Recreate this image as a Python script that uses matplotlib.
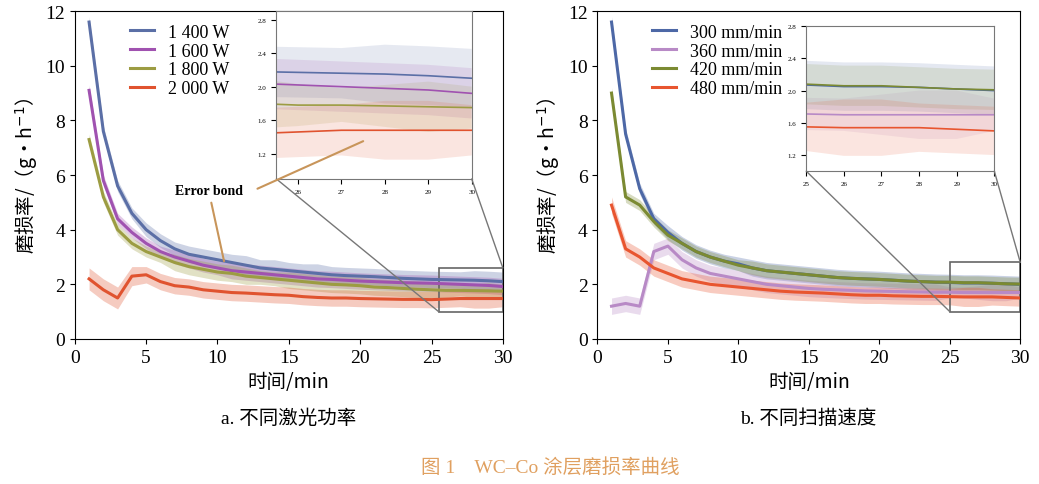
import matplotlib
matplotlib.use("Agg")
import matplotlib.pyplot as plt
import numpy as np
from matplotlib.patches import Rectangle, ConnectionPatch

plt.rcParams['font.family'] = ['Liberation Serif', 'Noto Sans CJK SC', 'DejaVu Sans']
CJK = ['Noto Sans CJK SC', 'DejaVu Sans']

t = list(range(1, 31))
p_labels = ["1 400 W", "1 600 W", "1 800 W", "2 000 W"]
p1400 = [11.6,7.6,5.6,4.6,4.0,3.6,3.3,3.1,3.0,2.9,2.8,2.7,2.6,2.55,2.5,2.45,2.4,2.35,2.32,2.3,2.28,2.25,2.22,2.2,2.18,2.17,2.16,2.15,2.13,2.1]
p1600 = [9.1,5.8,4.4,3.9,3.5,3.2,3.0,2.85,2.7,2.6,2.5,2.45,2.4,2.35,2.3,2.25,2.2,2.18,2.15,2.12,2.1,2.08,2.06,2.05,2.04,2.02,2.0,1.98,1.96,1.92]
p1800 = [7.3,5.2,4.0,3.5,3.2,3.0,2.8,2.65,2.55,2.45,2.4,2.3,2.25,2.2,2.15,2.1,2.05,2.0,1.98,1.95,1.9,1.88,1.85,1.82,1.8,1.78,1.78,1.77,1.76,1.75]
p2000 = [2.2,1.8,1.5,2.3,2.35,2.1,1.95,1.9,1.8,1.75,1.7,1.68,1.65,1.62,1.6,1.55,1.52,1.5,1.5,1.48,1.47,1.46,1.45,1.45,1.44,1.46,1.48,1.48,1.48,1.48]
pe1400 = [0.2,0.2,0.2,0.2,0.25,0.25,0.25,0.3,0.3,0.3,0.3,0.35,0.3,0.35,0.3,0.3,0.35,0.3,0.3,0.3,0.3,0.3,0.3,0.3,0.3,0.3,0.3,0.35,0.35,0.35]
pe1600 = [0.2,0.2,0.2,0.2,0.2,0.2,0.25,0.25,0.25,0.25,0.3,0.3,0.3,0.3,0.3,0.3,0.3,0.3,0.3,0.3,0.3,0.3,0.3,0.3,0.3,0.3,0.3,0.3,0.3,0.3]
pe1800 = [0.2,0.2,0.2,0.2,0.2,0.2,0.3,0.3,0.3,0.3,0.3,0.3,0.25,0.25,0.3,0.3,0.3,0.3,0.3,0.3,0.3,0.3,0.3,0.3,0.3,0.25,0.2,0.25,0.3,0.25]
pe2000 = [0.4,0.4,0.4,0.35,0.3,0.3,0.3,0.3,0.3,0.3,0.3,0.3,0.3,0.3,0.3,0.3,0.3,0.3,0.3,0.3,0.3,0.3,0.3,0.3,0.3,0.3,0.3,0.35,0.35,0.3]

s_labels = ["300 mm/min", "360 mm/min", "420 mm/min", "480 mm/min"]
s300 = [11.6,7.5,5.5,4.4,3.9,3.5,3.2,3.0,2.85,2.75,2.6,2.5,2.45,2.4,2.35,2.3,2.25,2.22,2.2,2.18,2.15,2.12,2.1,2.08,2.07,2.05,2.05,2.04,2.02,2.0]
s360 = [1.2,1.3,1.2,3.2,3.4,2.9,2.6,2.4,2.3,2.2,2.1,2.0,1.95,1.9,1.85,1.82,1.8,1.78,1.76,1.75,1.74,1.73,1.72,1.71,1.71,1.70,1.70,1.70,1.70,1.70]
s420 = [9.0,5.2,4.9,4.3,3.8,3.5,3.2,3.0,2.85,2.7,2.6,2.5,2.45,2.4,2.35,2.3,2.25,2.22,2.2,2.18,2.15,2.12,2.1,2.08,2.08,2.06,2.06,2.04,2.02,2.01]
s480 = [4.9,3.3,3.0,2.6,2.4,2.2,2.1,2.0,1.95,1.9,1.85,1.8,1.75,1.72,1.7,1.68,1.65,1.62,1.6,1.6,1.58,1.57,1.56,1.56,1.55,1.54,1.54,1.54,1.52,1.50]
se300 = [0.2]*4 + [0.25]*6 + [0.3]*20
se360 = [0.3,0.3,0.3,0.3,0.3,0.3,0.3,0.3,0.3,0.3,0.3,0.3,0.3,0.3,0.3,0.3,0.3,0.3,0.3,0.3,0.3,0.3,0.3,0.3,0.2,0.2,0.25,0.3,0.3,0.2]
se420 = [0.2]*10 + [0.25]*20
se480 = [0.3,0.3,0.3,0.3,0.3,0.3,0.3,0.3,0.3,0.3,0.3,0.3,0.3,0.3,0.3,0.3,0.3,0.3,0.3,0.3,0.3,0.3,0.3,0.3,0.3,0.35,0.35,0.3,0.3,0.3]

pcol = ['#5b6fa6', '#a052b0', '#9c9c42', '#e0532f']
scol = ['#4d68a6', '#b88ac6', '#7b8a32', '#e8552f']

fig = plt.figure(figsize=(10.39, 4.85), dpi=100)

def panel(rect, ys, es, cols, labels, irect, zx, zy, izy, iticks):
    ax = fig.add_axes(rect)
    for y, e, c, l in zip(ys, es, cols, labels):
        y = np.array(y); e = np.array(e)
        ax.fill_between(t, y - e, y + e, color=c, alpha=0.3, lw=0)
        ax.plot(t, y, color=c, lw=2.2, label=l)
    ax.set_xlim(0, 30); ax.set_ylim(0, 12)
    ax.set_xticks(range(0, 31, 5)); ax.set_yticks(range(0, 13, 2))
    ax.tick_params(labelsize=14, direction='out')
    ax.set_xlabel("时间/min", fontsize=14, family=CJK)
    ax.set_ylabel("磨损率/（g・h$^{-1}$）", fontsize=14, family=CJK)
    ax.legend(loc='upper left', bbox_to_anchor=(0.1, 1.0), frameon=False, fontsize=13,
              handlelength=1.3, labelspacing=0.1, borderaxespad=0.3)
    ax.add_patch(Rectangle((zx[0], zy[0]), zx[1]-zx[0], zy[1]-zy[0], fill=False, ec='#666666', lw=1.2))
    ia = fig.add_axes(irect)
    for y, e, c in zip(ys, es, cols):
        y = np.array(y); e = np.array(e)
        ia.fill_between(t, y - e, y + e, color=c, alpha=0.15, lw=0)
        ia.plot(t, y, color=c, lw=1.2)
    ia.set_xlim(zx); ia.set_ylim(izy)
    ia.set_xticks(range(int(np.ceil(zx[0])), 31)); ia.set_yticks(iticks)
    ia.tick_params(labelsize=5)
    for s in ia.spines.values():
        s.set_color('#777777')
    for (xa, ya), (xb, yb) in [((zx[0], zy[0]), (0, 0)), ((zx[1], zy[1]), (1, 0))]:
        con = ConnectionPatch(xyA=(xa, ya), coordsA=ax.transData, xyB=(xb, yb),
                              coordsB=ia.transAxes, color='#777777', lw=1)
        fig.add_artist(con)
    return ax, ia

ax1, ia1 = panel([0.072, 0.299, 0.412, 0.676], [p1400, p1600, p1800, p2000],
                 [pe1400, pe1600, pe1800, pe2000], pcol, p_labels,
                 [0.266, 0.629, 0.188, 0.346], (25.5, 30), (1.0, 2.6), (0.9, 2.9), [1.2, 1.6, 2.0, 2.4, 2.8])
ax2, ia2 = panel([0.575, 0.299, 0.407, 0.676], [s300, s360, s420, s480],
                 [se300, se360, se420, se480], scol, s_labels,
                 [0.776, 0.645, 0.181, 0.299], (25, 30), (1.0, 2.8), (1.0, 2.8), [1.2, 1.6, 2.0, 2.4, 2.8])

ax1.annotate("Error bond", xy=(10.5, 2.75), xytext=(7.0, 5.3), fontsize=10, fontweight='bold',
             arrowprops=dict(arrowstyle='-', color='#c8955a', lw=1.5))
fig.add_artist(ConnectionPatch(xyA=(12.8, 5.5), coordsA=ax1.transData, xyB=(27.5, 1.35),
                               coordsB=ia1.transData, color='#c8955a', lw=1.5))

fig.text(0.278, 0.125, "a. 不同激光功率", ha='center', fontsize=14, family=['Liberation Serif'] + CJK)
fig.text(0.778, 0.125, "b. 不同扫描速度", ha='center', fontsize=14, family=['Liberation Serif'] + CJK)
fig.text(0.53, 0.025, "图 1    WC–Co 涂层磨损率曲线", ha='center', fontsize=14, color='#e0a060',
         family=['Liberation Serif'] + CJK)

fig.savefig("out.png", dpi=100)
